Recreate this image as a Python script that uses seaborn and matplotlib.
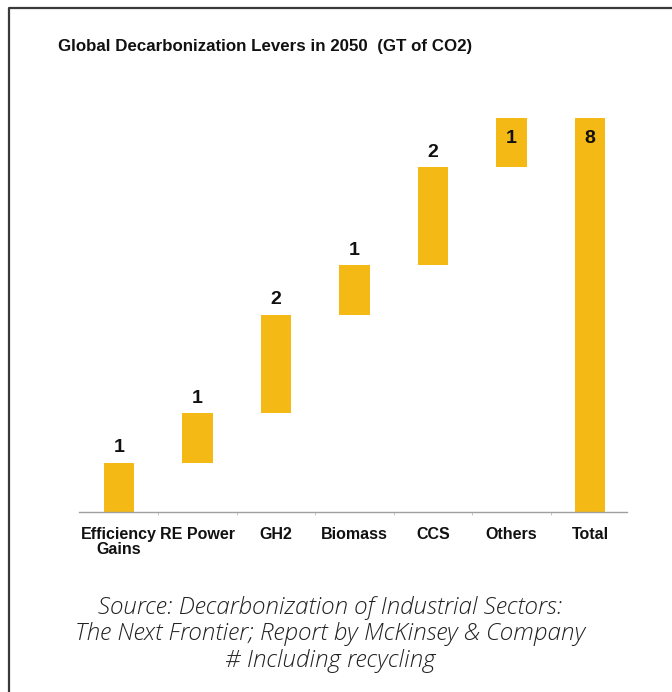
import numpy as np
import pandas as pd
import matplotlib
matplotlib.use("Agg")
import matplotlib.pyplot as plt
from matplotlib.lines import Line2D
import seaborn as sns

# Decarbonization levers (GT of CO2) and the resulting total
levers = ["Efficiency\nGains", "RE Power", "GH2", "Biomass", "CCS", "Others", "Total"]
reductions = [1, 1, 2, 1, 2, 1]
total = 8

title = "Global Decarbonization Levers in 2050  (GT of CO2)"
caption = ["Source: Decarbonization of Industrial Sectors:",
           "The Next Frontier; Report by McKinsey & Company",
           "# Including recycling"]

bar_color = "#F4B914"

# Waterfall: each lever floats on the running sum of the ones before it
heights = reductions + [total]
bases = list(np.concatenate([[0], np.cumsum(reductions)[:-1]])) + [0]
df = pd.DataFrame({"lever": levers, "height": heights})

sns.set_theme(style="white")
plt.rcParams["font.family"] = ["Liberation Sans", "DejaVu Sans"]

W, H = 672, 692
fig = plt.figure(figsize=(W / 100, H / 100), dpi=100)
fig.patch.set_facecolor("white")
ax = fig.add_axes([79 / W, 1 - 512 / H, (627 - 79) / W, (512 - 88) / H])

sns.barplot(data=df, x="lever", y="height", order=levers, color=bar_color,
            saturation=1, width=0.39, bottom=np.array(bases, dtype=float),
            linewidth=0, ax=ax)

ax.set_xlim(-0.51, 6.47)
ax.set_ylim(0, 8.6)
ax.set_xlabel("")
ax.set_ylabel("")
ax.set_yticks([])
for side in ["top", "right", "left"]:
    ax.spines[side].set_visible(False)
ax.spines["bottom"].set_color("#a0a0a0")
ax.spines["bottom"].set_linewidth(1.0)
ax.set_xticks(np.arange(0.5, 6.5, 1.0), minor=True)
ax.tick_params(axis="x", which="minor", bottom=True, length=2.5, width=0.7, color="#c8c8c8")
ax.tick_params(axis="x", which="major", bottom=False, pad=4.5)
for lbl in ax.get_xticklabels():
    lbl.set_fontsize(11.5)
    lbl.set_fontweight("bold")
    lbl.set_color("#111111")
    lbl.set_linespacing(1.0)

# Value labels: above each bar, or just inside the top when it reaches the ceiling
for i, (b, h) in enumerate(zip(bases, heights)):
    top = b + h
    if top >= total:
        ax.text(i, top - 0.42, f"{h}", ha="center", va="center",
                fontsize=14, fontweight="bold", color="#111111")
    else:
        ax.text(i, top + 0.3, f"{h}", ha="center", va="center",
                fontsize=14, fontweight="bold", color="#111111")

fig.text(265 / W, 1 - 47 / H, title, ha="center", va="center",
         fontsize=12.2, fontweight="bold", color="#111111")

for k, line in enumerate(caption):
    fig.text(330 / W, 1 - (608 + 26.5 * k) / H, line, ha="center", va="center",
             fontsize=17.5, style="italic", fontweight="light",
             family=["Open Sans", "DejaVu Sans"], color="#222222")

# Page frame on the left and top edges
fig.add_artist(Line2D([9 / W, 9 / W, 1.0], [0.0, 1 - 8 / H, 1 - 8 / H],
                      transform=fig.transFigure, color="#3a3a3a", linewidth=1.6))

fig.savefig("out.png", dpi=100, facecolor="white")
